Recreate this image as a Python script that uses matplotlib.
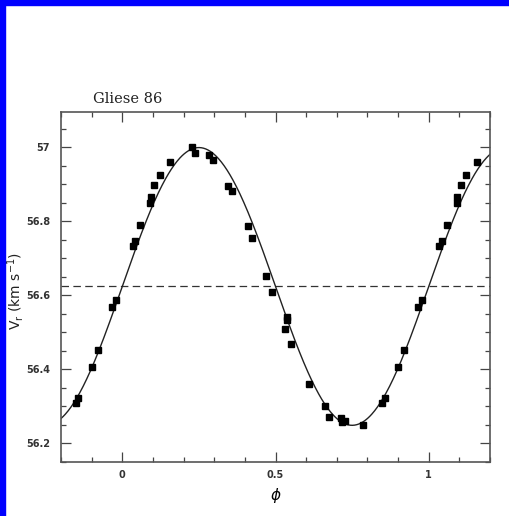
import numpy as np
import matplotlib
matplotlib.use("Agg")
import matplotlib.pyplot as plt
from matplotlib.patches import Rectangle
from matplotlib.ticker import MultipleLocator

# radial velocities folded on the orbital phase (km/s)
phase = [0.035, 0.042, 0.059, 0.091, 0.093, 0.105, 0.123, 0.156, 0.226, 0.236,
         0.282, 0.296, 0.346, 0.357, 0.409, 0.423, 0.470, 0.489, 0.532, 0.538,
         0.538, 0.551, 0.608, 0.661, 0.676, 0.714, 0.717, 0.728, 0.787, 0.849,
         0.856, 0.901, 0.920, 0.965, 0.979]
vr = [56.734, 56.746, 56.789, 56.848, 56.866, 56.899, 56.924, 56.960, 57.001, 56.985,
      56.978, 56.965, 56.895, 56.883, 56.786, 56.755, 56.653, 56.608, 56.509, 56.533,
      56.541, 56.469, 56.360, 56.300, 56.271, 56.268, 56.258, 56.261, 56.251, 56.309,
      56.323, 56.406, 56.452, 56.569, 56.588]

# orbit solution: systemic velocity and semi-amplitude
gamma = 56.624
K = 0.375

phase = np.array(phase)
vr = np.array(vr)

fig = plt.figure(figsize=(5.1, 5.16), dpi=100)
ax = fig.add_axes([0.1196, 0.1047, 0.8412, 0.6782])

# repeat the points outside [0,1] so the fold wraps around
lo = phase >= 0.8
hi = phase < 0.2
px = np.concatenate([phase, phase[lo] - 1, phase[hi] + 1])
py = np.concatenate([vr, vr[lo], vr[hi]])

ph = np.linspace(-0.2, 1.2, 600)
ax.plot(ph, gamma + K * np.sin(2 * np.pi * ph), color='#222222', lw=1.0, zorder=2)
ax.axhline(gamma, color='#333333', lw=0.9, dashes=(6, 3.5), zorder=1)
ax.plot(px, py, 's', color='black', ms=4.8, zorder=3)

ax.set_xlim(-0.2, 1.2)
ax.set_ylim(56.15, 57.095)
ax.xaxis.set_minor_locator(MultipleLocator(0.1))
ax.yaxis.set_minor_locator(MultipleLocator(0.05))
ax.set_xticks([0, 0.5, 1])
ax.set_xticklabels(['0', '0.5', '1'])
ax.set_yticks([56.2, 56.4, 56.6, 56.8, 57.0])
ax.set_yticklabels(['56.2', '56.4', '56.6', '56.8', '57'])
ax.tick_params(which='both', direction='in', top=True, right=True,
               color='#444444', labelsize=7)
ax.tick_params(axis='x', pad=6)
ax.tick_params(axis='y', pad=8)
ax.tick_params(which='major', length=7, width=0.9)
ax.tick_params(which='minor', length=3.5, width=0.9)
for lab in ax.get_xticklabels() + ax.get_yticklabels():
    lab.set_fontweight('bold')
    lab.set_color('#333333')
for s in ax.spines.values():
    s.set_color('#555555')
    s.set_linewidth(1.2)

ax.set_xlabel(r'$\phi$', fontsize=11)
ax.xaxis.set_label_coords(0.5, -0.07)
ax.set_ylabel(r'V$_{\mathrm{r}}$ (km s$^{-1}$)', fontsize=10, color='#222222')
ax.yaxis.set_label_coords(-0.082, 0.49)
fig.text(0.183, 0.800, 'Gliese 86', fontsize=10.5, family='DejaVu Serif',
         color='#222222')

# blue frame strips along the left and top edges
fig.patches.append(Rectangle((0, 0), 5 / 510, 1, transform=fig.transFigure,
                             color='#0000ff', zorder=0))
fig.patches.append(Rectangle((0, 1 - 5 / 516), 1, 5 / 516, transform=fig.transFigure,
                             color='#0000ff', zorder=0))

fig.savefig('out.png', dpi=100)
